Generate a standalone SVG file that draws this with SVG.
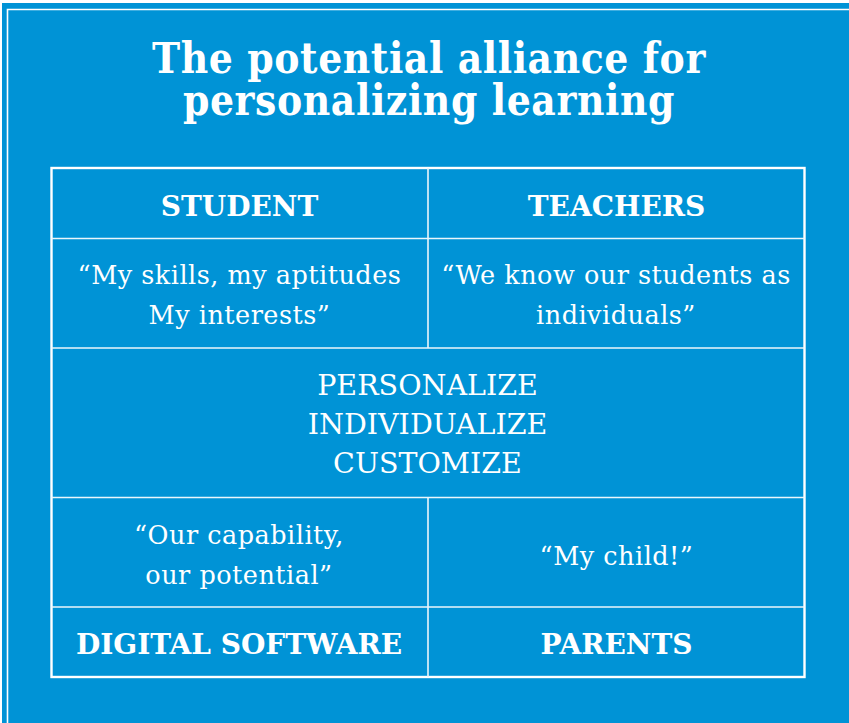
<svg xmlns="http://www.w3.org/2000/svg" width="849" height="723" viewBox="0 0 849 723">
  <style>
    .panel { fill: #0093d6; }
    .rule { fill: none; stroke: #ffffff; }
    .frame { fill: none; stroke: #ffffff; stroke-width: 2.4; }
    .grid { fill: none; stroke: #eaf6fc; stroke-width: 1.6; }
    text { fill: #ffffff; font-family: "DejaVu Serif", serif; text-anchor: middle; }
    .title { font-family: "DejaVu Serif Condensed", "DejaVu Serif", serif; font-size: 42px; font-weight: bold; letter-spacing: 0.6px; }
    .head { font-size: 28px; font-weight: bold; }
    .quote { font-size: 25.5px; letter-spacing: 0.5px; }
    .verb { font-size: 28.5px; }
  </style>

  <rect x="0" y="0" width="849" height="723" fill="#ffffff"/>
  <rect class="panel" x="2" y="3" width="847" height="720"/>
  <path class="rule" d="M849 9.5 H7.5 V723" stroke-width="1.6"/>

  <g id="title">
    <text class="title"><tspan x="429" y="73">The potential alliance for</tspan><tspan x="429" y="115">personalizing learning</tspan></text>
  </g>

  <g id="connectors">
    <rect class="frame" x="51.5" y="168" width="753" height="509"/>
    <path class="grid" d="M51.5 238.5 H804.5 M51.5 348 H804.5 M51.5 497.5 H804.5 M51.5 607 H804.5 M428 168 V348 M428 497.5 V677"/>
  </g>

  <g id="student">
    <text class="head" x="239.5" y="215.5">STUDENT</text>
    <text class="quote" x="239.5" y="283.5">“My skills, my aptitudes</text>
    <text class="quote" x="239.5" y="323.5">My interests”</text>
  </g>

  <g id="teachers">
    <text class="head" x="616.5" y="215.5">TEACHERS</text>
    <text class="quote" x="616" y="283.5">“We know our students as</text>
    <text class="quote" x="616" y="323.5">individuals”</text>
  </g>

  <g id="alliance">
    <text class="verb" x="427.5" y="394.5">PERSONALIZE</text>
    <text class="verb" x="427.5" y="433.5">INDIVIDUALIZE</text>
    <text class="verb" x="427.5" y="472.5">CUSTOMIZE</text>
  </g>

  <g id="software">
    <text class="quote" x="239" y="544">“Our capability,</text>
    <text class="quote" x="239" y="583.5">our potential”</text>
    <text class="head" x="239" y="654">DIGITAL SOFTWARE</text>
  </g>

  <g id="parents">
    <text class="quote" x="616.5" y="564.5">“My child!”</text>
    <text class="head" x="616.5" y="654">PARENTS</text>
  </g>
</svg>
